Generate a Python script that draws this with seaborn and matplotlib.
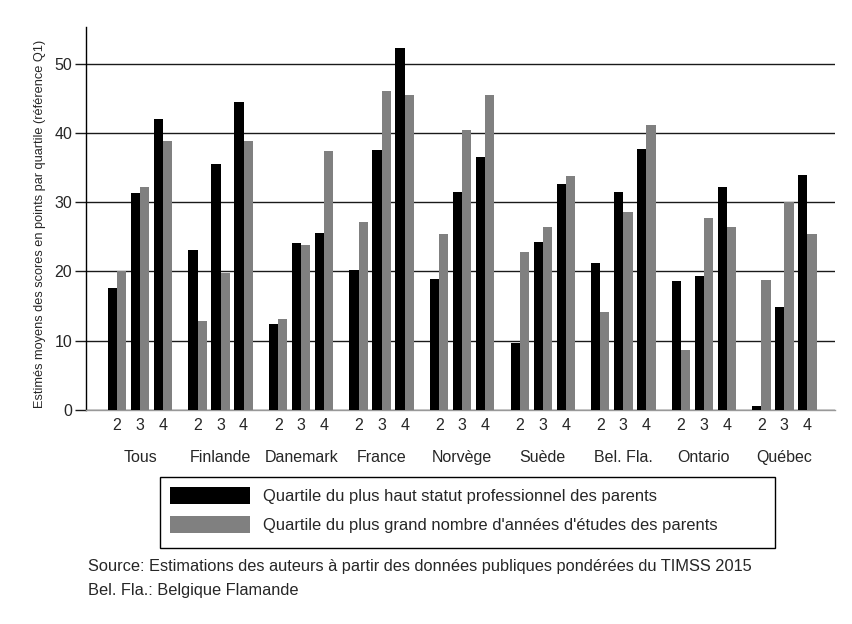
import pandas as pd
import numpy as np
import matplotlib
matplotlib.use("Agg")
import matplotlib.pyplot as plt
import matplotlib.transforms as mtransforms
from matplotlib.patches import Rectangle
import seaborn as sns

countries = ["Tous", "Finlande", "Danemark", "France", "Norvège", "Suède", "Bel. Fla.", "Ontario", "Québec"]
quartiles = ["2", "3", "4"]
series = ["Quartile du plus haut statut professionnel des parents",
          "Quartile du plus grand nombre d'années d'études des parents"]

# one value per country x quartile (2, 3, 4)
statut = [17.6, 31.3, 42.0,
          23.1, 35.5, 44.5,
          12.4, 24.1, 25.5,
          20.2, 37.6, 52.2,
          18.9, 31.5, 36.6,
          9.7, 24.3, 32.7,
          21.2, 31.5, 37.7,
          18.6, 19.4, 32.2,
          0.6, 14.8, 33.9]
etudes = [20.0, 32.2, 38.8,
          12.8, 19.8, 38.9,
          13.2, 23.8, 37.4,
          27.2, 46.1, 45.5,
          25.4, 40.4, 45.5,
          22.8, 26.4, 33.8,
          14.2, 28.6, 41.2,
          8.6, 27.7, 26.4,
          18.7, 30.0, 25.4]

group_step = 3.5
rows = []
for i, c in enumerate(countries):
    for j, q in enumerate(quartiles):
        pos = i * group_step + j
        rows.append({"pos": pos, "pays": c, "quartile": q, "serie": series[0], "valeur": statut[i * 3 + j]})
        rows.append({"pos": pos, "pays": c, "quartile": q, "serie": series[1], "valeur": etudes[i * 3 + j]})
df = pd.DataFrame(rows)

sns.set_theme(style="white")
plt.rcParams["font.family"] = ["Liberation Sans", "DejaVu Sans"]

fig = plt.figure(figsize=(8.53, 6.24), dpi=100)
ax = fig.add_axes([86 / 853, 1 - 410 / 624, (835 - 86) / 853, (410 - 27) / 624])

sns.barplot(data=df, x="pos", y="valeur", hue="serie", native_scale=True,
            palette=["#000000", "#808080"], width=0.8, linewidth=0,
            errorbar=None, ax=ax, zorder=3)

ax.set_xlim(-1.35, 31.2)
ax.set_ylim(0, 55.3)
ax.set_yticks([0, 10, 20, 30, 40, 50])
ax.yaxis.grid(True, color="#1a1a1a", linewidth=1)
ax.set_axisbelow(True)
ax.tick_params(axis="y", length=8, width=1, color="#1a1a1a", labelsize=11.5, pad=2, left=True)

ticks = df["pos"].unique()
ax.set_xticks(ticks)
ax.set_xticklabels(quartiles * len(countries), fontsize=11.5)
ax.tick_params(axis="x", length=0, pad=6)

for s in ["top", "right"]:
    ax.spines[s].set_visible(False)
ax.spines["left"].set_color("#000000")
ax.spines["left"].set_linewidth(1)
ax.spines["bottom"].set_color("#999999")
ax.spines["bottom"].set_linewidth(1)

ax.set_xlabel("")
ax.set_ylabel("Estimés moyens des scores en points par quartile (référence Q1)", fontsize=9.2)
ax.yaxis.set_label_coords(-0.054, 0.485)

trans = mtransforms.blended_transform_factory(ax.transData, ax.transAxes)
for i, c in enumerate(countries):
    ax.text(i * group_step + 1, -0.125, c, transform=trans, ha="center", va="center", fontsize=11.5)

sns.move_legend(ax, loc="upper left", bbox_to_anchor=(170 / 853, 1 - 487 / 624),
                bbox_transform=fig.transFigure, title=None, frameon=False,
                handlelength=4.85, handleheight=1.21, handletextpad=0.75,
                borderpad=0, labelspacing=0.72, borderaxespad=0,
                prop={"size": 11.9})

# legend box drawn separately (wider than its content in the original)
fig.patches.append(Rectangle((160 / 853, 1 - 548 / 624), (775 - 160) / 853, (548 - 477) / 624,
                             transform=fig.transFigure, fill=False, edgecolor="#000000", linewidth=1))

fig.text(88 / 853, 1 - 566 / 624, "Source: Estimations des auteurs à partir des données publiques pondérées du TIMSS 2015",
         fontsize=11.8, va="center", ha="left")
fig.text(88 / 853, 1 - 591 / 624, "Bel. Fla.: Belgique Flamande",
         fontsize=11.8, va="center", ha="left")

fig.savefig("out.png", dpi=100, facecolor="white")
